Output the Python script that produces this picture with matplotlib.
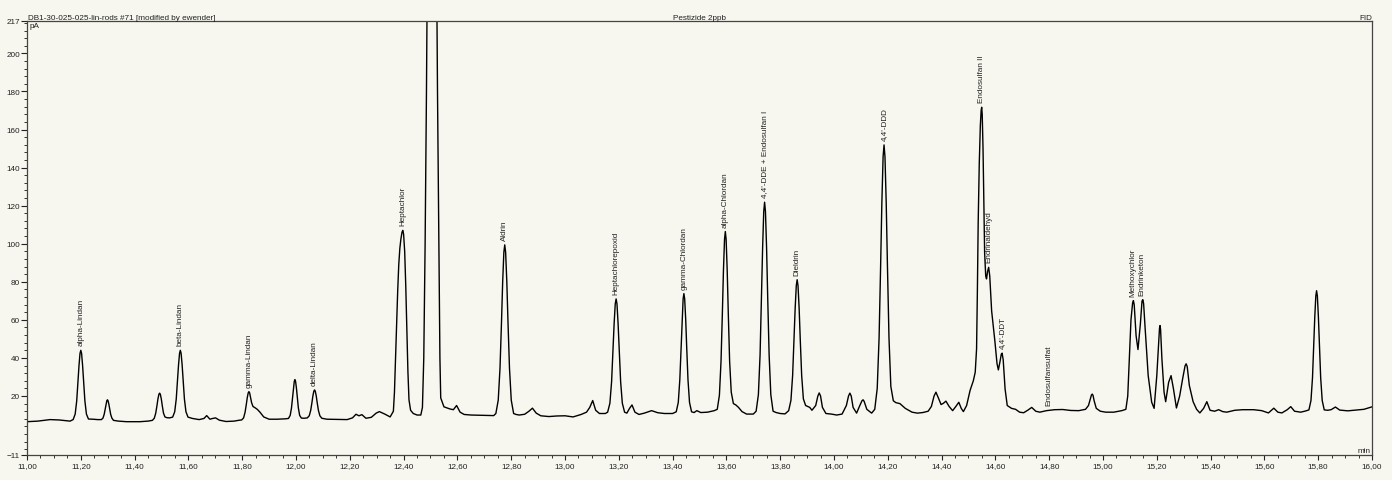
import matplotlib
matplotlib.use("Agg")
import matplotlib.pyplot as plt
from matplotlib.ticker import MultipleLocator, FixedLocator, FuncFormatter

plt.rcParams['font.family'] = ['Liberation Sans', 'DejaVu Sans']

# chromatogram trace: (retention time in min, signal in pA)
seg_11 = [
    (11.000, 6.5), (11.040, 6.8), (11.086, 7.6), (11.120, 7.4), (11.160, 6.8),
    # alpha-Lindan
    (11.1715, 7.6), (11.1791, 10.5), (11.1848, 17.4), (11.1895, 27.3), (11.1933, 36.0),
    (11.1971, 42.4), (11.2000, 44.0), (11.2029, 42.4), (11.2067, 36.0), (11.2105, 27.3),
    (11.2152, 17.4), (11.2209, 10.5), (11.2285, 7.9),
    (11.245, 7.8), (11.262, 7.6),
    (11.2765, 7.6), (11.2825, 8.4), (11.2870, 10.4), (11.2907, 13.2), (11.2937, 15.7),
    (11.2967, 17.5), (11.2990, 18.0), (11.3013, 17.5), (11.3043, 15.7), (11.3073, 13.2),
    (11.3110, 10.4), (11.3155, 8.4), (11.3215, 7.2),
    (11.340, 6.8), (11.370, 6.5), (11.420, 6.5), (11.450, 6.8),
    (11.4660, 7.2), (11.4732, 8.3), (11.4786, 11.0), (11.4831, 14.9), (11.4867, 18.4),
    (11.4903, 20.9), (11.4930, 21.5), (11.4957, 20.9), (11.4993, 18.4), (11.5029, 14.9),
    (11.5074, 11.0), (11.5128, 9.0), (11.5200, 8.6), (11.530, 8.5),
    # beta-Lindan
    (11.5415, 8.9), (11.5491, 11.7), (11.5548, 18.4), (11.5595, 27.9), (11.5633, 36.3),
    (11.5671, 42.4), (11.5700, 44.0), (11.5729, 42.4), (11.5767, 36.3), (11.5805, 27.9),
    (11.5852, 18.4), (11.5909, 11.7), (11.5985, 8.9),
    (11.615, 8.2), (11.640, 7.6), (11.658, 8.2), (11.668, 9.7), (11.680, 7.8),
    (11.690, 8.2), (11.701, 8.5), (11.715, 7.3), (11.740, 6.6), (11.770, 6.8),
    (11.790, 7.3),
    # gamma-Lindan with tail shoulder
    (11.7980, 7.4), (11.8052, 8.5), (11.8106, 11.4), (11.8151, 15.4), (11.8187, 19.0),
    (11.8223, 21.6), (11.8250, 22.3), (11.8277, 21.6), (11.8313, 19.0), (11.8349, 16.5),
    (11.840, 14.5), (11.848, 13.8), (11.856, 13.0), (11.866, 11.5), (11.880, 9.0),
    (11.900, 7.8), (11.930, 7.8), (11.960, 8.0),
]
seg_12 = [
    (11.9720, 8.2), (11.9784, 9.8), (11.9832, 13.7), (11.9872, 19.2), (11.9904, 24.1),
    (11.9936, 27.7), (11.9960, 28.6), (11.9984, 27.7), (12.0016, 24.1), (12.0048, 19.2),
    (12.0088, 13.7), (12.0136, 9.8), (12.0200, 8.4), (12.030, 8.3),
    # delta-Lindan
    (12.0420, 8.5), (12.0492, 9.6), (12.0546, 12.4), (12.0591, 16.4), (12.0627, 20.0),
    (12.0663, 22.5), (12.0690, 23.2), (12.0717, 22.5), (12.0753, 20.0), (12.0789, 16.4),
    (12.0834, 12.4), (12.0888, 9.6), (12.0960, 8.3),
    (12.115, 7.8), (12.150, 7.7), (12.190, 7.6), (12.210, 8.5), (12.223, 10.4),
    (12.234, 9.6), (12.245, 10.2), (12.260, 8.3), (12.280, 8.8), (12.298, 11.0),
    (12.310, 11.8), (12.330, 10.5), (12.350, 9.0),
    # Heptachlor
    (12.362, 12.0), (12.366, 22.0), (12.370, 40.0), (12.374, 58.0), (12.378, 75.0),
    (12.382, 89.0), (12.386, 97.5), (12.390, 102.5), (12.394, 106.0), (12.397, 107.0),
    (12.400, 105.0), (12.404, 96.0), (12.408, 78.0), (12.412, 55.0), (12.416, 33.0),
    (12.420, 18.0), (12.426, 12.5), (12.436, 10.8), (12.450, 10.0), (12.464, 10.0),
    # off-scale peak
    (12.470, 14.0), (12.475, 40.0), (12.480, 100.0), (12.485, 180.0), (12.489, 260.0),
    (12.506, 1000.0), (12.522, 260.0), (12.526, 180.0), (12.531, 100.0), (12.535, 40.0),
    (12.538, 19.0), (12.550, 14.3), (12.572, 13.2), (12.585, 12.8), (12.597, 15.0),
    (12.610, 11.5), (12.625, 10.3), (12.650, 10.0), (12.700, 9.8), (12.735, 9.7),
]
seg_13 = [
    # Aldrin
    (12.7430, 10.8), (12.7518, 17.8), (12.7584, 34.7), (12.7639, 58.7), (12.7683, 80.0),
    (12.7727, 95.5), (12.7760, 99.4), (12.7793, 95.5), (12.7837, 80.0), (12.7881, 58.7),
    (12.7936, 34.7), (12.8002, 17.8), (12.8090, 10.8),
    (12.818, 10.3), (12.830, 10.0), (12.850, 10.4), (12.866, 12.0), (12.879, 13.6),
    (12.893, 11.0), (12.910, 9.6), (12.940, 9.2), (12.970, 9.5), (13.000, 9.6),
    (13.030, 9.0), (13.060, 10.3), (13.080, 11.5), (13.092, 14.0), (13.103, 17.6),
    (13.114, 12.5), (13.128, 10.8), (13.150, 10.8),
    # Heptachlorepoxid
    (13.1585, 11.5), (13.1669, 16.2), (13.1732, 27.5), (13.1784, 43.7), (13.1826, 57.9),
    (13.1868, 68.4), (13.1900, 71.0), (13.1932, 68.4), (13.1974, 57.9), (13.2016, 43.7),
    (13.2068, 27.5), (13.2131, 16.2), (13.2215, 11.5),
    (13.230, 11.0), (13.240, 13.5), (13.249, 15.3), (13.260, 11.5), (13.275, 10.3),
    (13.295, 11.0), (13.322, 12.3), (13.345, 11.2), (13.370, 10.8), (13.400, 10.8),
    # gamma-Chlordan
    (13.4135, 11.7), (13.4211, 16.6), (13.4268, 28.5), (13.4315, 45.3), (13.4353, 60.2),
    (13.4391, 71.0), (13.4420, 73.8), (13.4449, 71.0), (13.4487, 60.2), (13.4525, 45.3),
    (13.4572, 28.5), (13.4629, 16.6), (13.4705, 11.7),
    (13.480, 11.3), (13.490, 12.3), (13.505, 11.3), (13.530, 11.5), (13.555, 12.3),
]
seg_14 = [
    # alpha-Chlordan
    (13.566, 13.0), (13.574, 20.4), (13.580, 38.2), (13.585, 63.5), (13.589, 85.9),
    (13.593, 102.2), (13.596, 106.4), (13.599, 102.2), (13.603, 85.9), (13.607, 63.5),
    (13.612, 38.2), (13.618, 22.0), (13.626, 16.0),
    (13.635, 15.3), (13.645, 14.0), (13.658, 11.8), (13.675, 10.5), (13.700, 10.5),
    # 4,4'-DDE + Endosulfan I
    (13.7105, 12.0), (13.7189, 20.7), (13.7252, 41.7), (13.7304, 71.4), (13.7346, 97.7),
    (13.7388, 116.9), (13.7420, 121.8), (13.7452, 116.9), (13.7494, 97.7), (13.7536, 71.4),
    (13.7588, 41.7), (13.7651, 20.7), (13.7735, 12.0),
    (13.785, 11.3), (13.800, 10.8), (13.818, 10.6),
    # Dieldrin
    (13.8315, 12.3), (13.8399, 17.7), (13.8462, 30.8), (13.8514, 49.5), (13.8556, 66.0),
    (13.8598, 78.0), (13.8630, 81.1), (13.8662, 78.0), (13.8704, 66.0), (13.8746, 49.5),
    (13.8798, 30.8), (13.8861, 18.5), (13.8945, 15.0),
    (13.902, 14.5), (13.910, 14.0), (13.918, 12.5), (13.932, 15.0), (13.940, 20.0),
    (13.945, 21.6), (13.950, 20.0), (13.957, 14.0), (13.970, 10.8), (13.990, 10.5),
    (14.010, 10.0), (14.030, 10.5), (14.046, 15.0), (14.054, 20.0), (14.059, 21.5),
    (14.064, 20.0), (14.071, 14.0), (14.084, 11.0), (14.096, 15.0), (14.104, 17.5),
    (14.108, 18.0), (14.112, 17.2), (14.122, 13.0), (14.140, 11.0),
    # 4,4'-DDD
    (14.1515, 13.0), (14.1607, 24.0), (14.1676, 50.5), (14.1733, 88.2), (14.1779, 121.4),
    (14.1825, 145.7), (14.1860, 151.9), (14.1895, 145.7), (14.1941, 121.4), (14.1987, 88.2),
    (14.2044, 50.5), (14.2113, 25.0), (14.2205, 17.5),
    (14.230, 16.5), (14.245, 16.0), (14.265, 13.5), (14.290, 11.5), (14.310, 11.0),
    (14.330, 11.3), (14.350, 12.0), (14.362, 14.5), (14.372, 20.0), (14.379, 22.0),
    (14.388, 19.0), (14.398, 15.5), (14.407, 16.2), (14.416, 17.3), (14.428, 14.5),
    (14.441, 12.3), (14.453, 14.5), (14.464, 16.7), (14.473, 13.5), (14.481, 11.8),
    (14.493, 15.0), (14.506, 23.0), (14.518, 28.0), (14.525, 32.5),
]
seg_15 = [
    # Endosulfan II / Endrinaldehyd / 4,4'-DDT
    (14.530, 44.7), (14.533, 75.0), (14.536, 111.0), (14.540, 142.0), (14.544, 162.0),
    (14.547, 170.0), (14.549, 171.7), (14.551, 168.0), (14.554, 150.0), (14.557, 122.0),
    (14.560, 95.0), (14.564, 83.0), (14.567, 81.5), (14.571, 85.5), (14.575, 87.6),
    (14.579, 83.0), (14.586, 64.7), (14.598, 48.9), (14.606, 37.0), (14.611, 33.7),
    (14.617, 38.0), (14.622, 42.0), (14.625, 42.5), (14.629, 39.0), (14.636, 23.7),
    (14.644, 15.0), (14.660, 13.5), (14.675, 13.0), (14.690, 11.5), (14.705, 11.2),
    (14.720, 12.5), (14.735, 14.0), (14.750, 12.0), (14.765, 11.5), (14.790, 12.3),
    (14.820, 12.8), (14.850, 12.9), (14.880, 12.4), (14.910, 12.3), (14.935, 13.0),
    (14.946, 15.0), (14.953, 18.5), (14.957, 20.5), (14.960, 21.0), (14.963, 20.3),
    (14.967, 17.5), (14.975, 13.5), (14.990, 12.0), (15.010, 11.5), (15.040, 11.5),
    (15.070, 12.3), (15.085, 13.0),
    # Methoxychlor / Endrinketon and following cluster
    (15.092, 20.0), (15.098, 39.5), (15.104, 60.0), (15.110, 68.8), (15.113, 70.1),
    (15.116, 68.0), (15.123, 51.7), (15.130, 44.4), (15.139, 58.0), (15.145, 69.8),
    (15.148, 70.6), (15.151, 68.5), (15.156, 57.0), (15.168, 30.7), (15.181, 16.7),
    (15.190, 13.5), (15.200, 30.7), (15.207, 48.3), (15.210, 55.5), (15.212, 57.0),
    (15.214, 55.0), (15.219, 39.5), (15.227, 22.0), (15.233, 17.0), (15.244, 27.2),
    (15.253, 30.7), (15.262, 23.7), (15.273, 13.7), (15.285, 20.0), (15.296, 29.0),
    (15.305, 35.8), (15.309, 36.9), (15.313, 35.5), (15.321, 25.5), (15.335, 17.0),
]
seg_16 = [
    (15.348, 13.0), (15.360, 11.1), (15.374, 13.5), (15.386, 17.0), (15.398, 12.5),
    (15.415, 12.0), (15.430, 12.8), (15.445, 11.8), (15.460, 11.5), (15.490, 12.5),
    (15.520, 12.8), (15.560, 12.8), (15.590, 12.3), (15.615, 11.1), (15.635, 13.6),
    (15.650, 11.5), (15.665, 11.1), (15.685, 12.8), (15.698, 14.4), (15.712, 12.0),
    (15.735, 11.5), (15.755, 12.2),
    (15.7655, 12.7), (15.7731, 17.6), (15.7788, 29.6), (15.7835, 46.6), (15.7873, 61.6),
    (15.7911, 72.5), (15.7940, 75.3), (15.7969, 72.5), (15.8007, 61.6), (15.8045, 46.6),
    (15.8092, 29.6), (15.8149, 17.6), (15.8225, 12.7),
    (15.835, 12.5), (15.848, 12.8), (15.864, 14.2), (15.880, 12.6), (15.910, 12.2),
    (15.940, 12.6), (15.970, 13.0), (16.000, 14.3),
]

# peak annotations
peak_names = ["alpha-Lindan", "beta-Lindan", "gamma-Lindan", "delta-Lindan", "Heptachlor",
              "Aldrin", "Heptachlorepoxid", "gamma-Chlordan", "alpha-Chlordan",
              "4,4'-DDE + Endosulfan I", "Dieldrin", "4,4'-DDD", "Endosulfan II",
              "Endrinaldehyd", "4,4'-DDT", "Endosulfansulfat", "Methoxychlor", "Endrinketon"]
peak_rt = [11.200, 11.570, 11.825, 12.069, 12.397, 12.776, 13.189, 13.442, 13.596,
           13.742, 13.863, 14.186, 14.549, 14.575, 14.625, 14.800, 15.110, 15.146]
peak_pA = [44.0, 44.0, 22.3, 23.2, 107.0, 99.4, 71.0, 73.8, 106.4,
           121.8, 81.1, 151.9, 171.7, 87.6, 42.5, 12.5, 70.1, 70.6]

y_labels = [-11, 20, 40, 60, 80, 100, 120, 140, 160, 180, 200, 217]

trace = seg_11 + seg_12 + seg_13 + seg_14 + seg_15 + seg_16
rt = [p[0] for p in trace]
signal = [p[1] for p in trace]

bg = '#f7f7ef'
fs = 5.9
fig = plt.figure(figsize=(13.92, 4.81), dpi=100, facecolor=bg)
ax = fig.add_axes([27 / 1392, 1 - 456 / 481, 1345 / 1392, 434 / 481])
ax.set_facecolor(bg)

ax.plot(rt, signal, color='black', lw=1.0)

ax.set_xlim(11.0, 16.0)
ax.set_ylim(-11, 217)

ax.xaxis.set_major_locator(MultipleLocator(0.2))
ax.xaxis.set_minor_locator(MultipleLocator(0.05))
ax.xaxis.set_major_formatter(FuncFormatter(lambda v, p: f"{v:.2f}".replace('.', ',')))
ax.yaxis.set_major_locator(FixedLocator(y_labels))
ax.yaxis.set_minor_locator(MultipleLocator(4))
ax.tick_params(axis='both', which='major', labelsize=fs, colors='#222222', width=0.8)
ax.tick_params(axis='x', which='major', length=3.5, pad=1.5)
ax.tick_params(axis='y', which='major', length=4.5, pad=0.5)
ax.tick_params(axis='x', which='minor', length=2.2, width=0.7, color='#333333')
ax.tick_params(axis='y', which='minor', length=2.2, width=0.7, color='#333333')
for s in ax.spines.values():
    s.set_color('#444444')
    s.set_linewidth(0.9)

for name, t, h in zip(peak_names, peak_rt, peak_pA):
    ax.annotate(name, (t, h), xytext=(0, 3.6), textcoords='offset points',
                rotation=90, ha='center', va='bottom', fontsize=fs, color='#222222')

ax.text(0.001, 1.0, "DB1-30-025-025-lin-rods #71 [modified by ewender]", transform=ax.transAxes,
        ha='left', va='bottom', fontsize=fs, color='#222222')
ax.text(0.5, 1.0, "Pestizide 2ppb", transform=ax.transAxes,
        ha='center', va='bottom', fontsize=fs, color='#222222')
ax.text(1.0, 1.0, "FID", transform=ax.transAxes,
        ha='right', va='bottom', fontsize=fs, color='#222222')
ax.text(0.002, 0.997, "pA", transform=ax.transAxes,
        ha='left', va='top', fontsize=fs, color='#222222')
ax.text(0.999, 0.003, "min", transform=ax.transAxes,
        ha='right', va='bottom', fontsize=fs, color='#222222')

fig.savefig('out.png', dpi=100, facecolor=bg)
